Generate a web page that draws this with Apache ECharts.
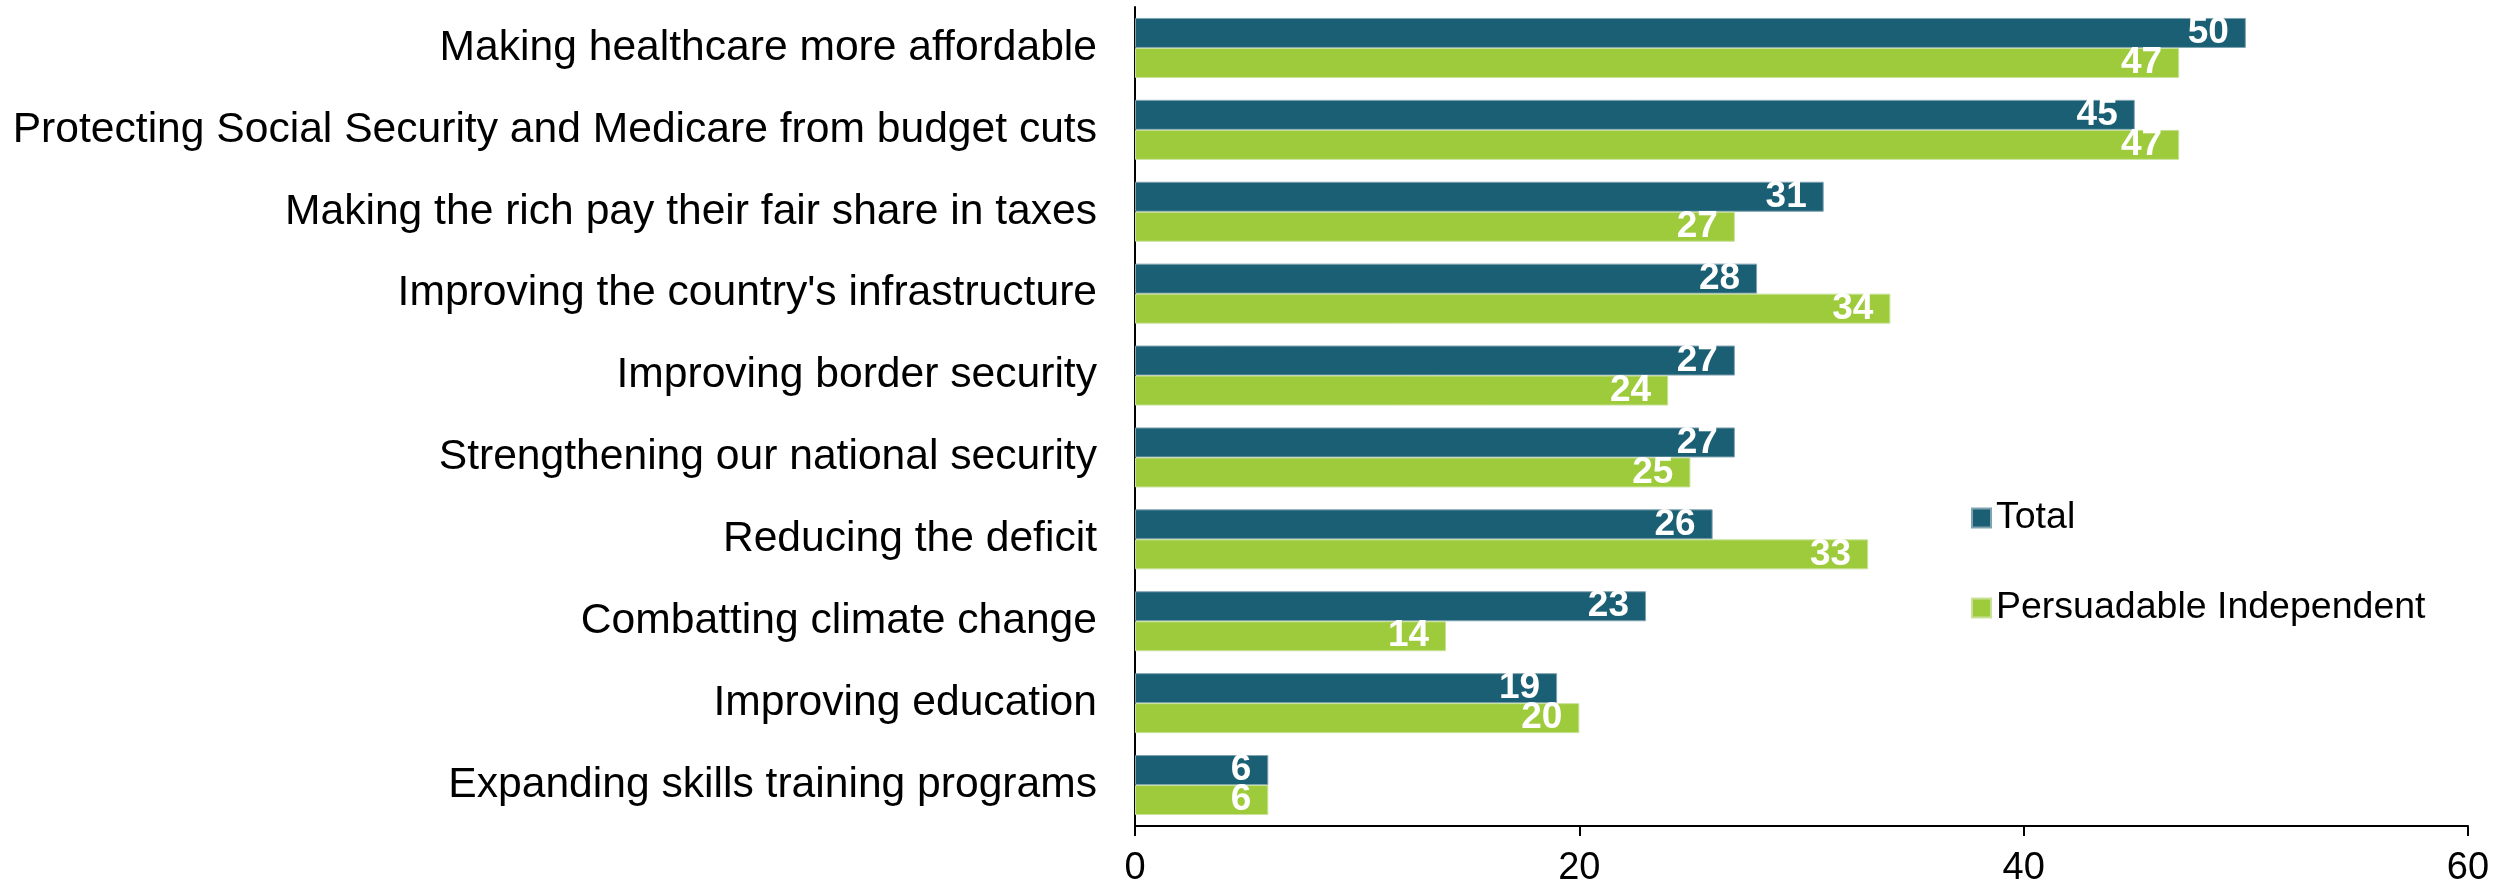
<!DOCTYPE html>
<html>
<head>
<meta charset="utf-8">
<script src="https://cdn.jsdelivr.net/npm/echarts@6/dist/echarts.min.js"></script>
<style>
html,body{margin:0;padding:0;background:#fff;}
#chart{width:2499px;height:888px;}
</style>
</head>
<body>
<div id="chart"></div>
<script>
const categories = [
  "Making healthcare more affordable",
  "Protecting Social Security and Medicare from budget cuts",
  "Making the rich pay their fair share in taxes",
  "Improving the country's infrastructure",
  "Improving border security",
  "Strengthening our national security",
  "Reducing the deficit",
  "Combatting climate change",
  "Improving education",
  "Expanding skills training programs"
];
const totalValues = [50, 45, 31, 28, 27, 27, 26, 23, 19, 6];
const persuadableValues = [47, 47, 27, 34, 24, 25, 33, 14, 20, 6];
const xTicks = [0, 20, 40, 60];

const FONT = "'Liberation Sans', Arial, sans-serif";
const chart = echarts.init(document.getElementById('chart'), null, {renderer: 'canvas'});
const labelCfg = {
  show: true,
  position: 'insideRight',
  distance: 17,
  color: '#ffffff',
  fontWeight: 'bold',
  fontSize: 37,
  fontFamily: FONT
};
chart.setOption({
  animation: false,
  backgroundColor: '#ffffff',
  grid: {left: 1135, right: 31, top: 7, bottom: 60, containLabel: false},
  legend: {
    orient: 'vertical',
    left: 1966,
    top: 494,
    itemWidth: 19,
    itemHeight: 19,
    itemGap: 52,
    icon: 'rect',
    textStyle: {fontSize: 37.5, fontFamily: FONT, color: '#000', lineHeight: 37, padding: [0, 0, 0, 0]},
    data: ['Total', 'Persuadable Independent']
  },
  xAxis: {
    type: 'value',
    min: xTicks[0],
    max: xTicks[xTicks.length - 1],
    interval: 20,
    axisLine: {show: true, lineStyle: {color: '#000', width: 2}},
    axisTick: {show: true, length: 10, lineStyle: {color: '#000', width: 2}},
    splitLine: {show: false},
    axisLabel: {fontSize: 38, fontFamily: FONT, color: '#000', margin: 24}
  },
  yAxis: {
    type: 'category',
    data: categories,
    inverse: true,
    axisLine: {show: true, lineStyle: {color: '#000', width: 2}},
    axisTick: {show: false},
    axisLabel: {fontSize: 42.6, fontFamily: FONT, color: '#000', margin: 38}
  },
  series: [
    {
      name: 'Total',
      type: 'bar',
      data: totalValues,
      barWidth: 30,
      barGap: '0%',
      itemStyle: {color: '#1B5F74', borderColor: '#7FA3B0', borderWidth: 1},
      label: labelCfg
    },
    {
      name: 'Persuadable Independent',
      type: 'bar',
      data: persuadableValues,
      barWidth: 30,
      barGap: '0%',
      itemStyle: {color: '#9ECB3B', borderColor: '#C9E29A', borderWidth: 1},
      label: labelCfg
    }
  ]
});
</script>
</body>
</html>
